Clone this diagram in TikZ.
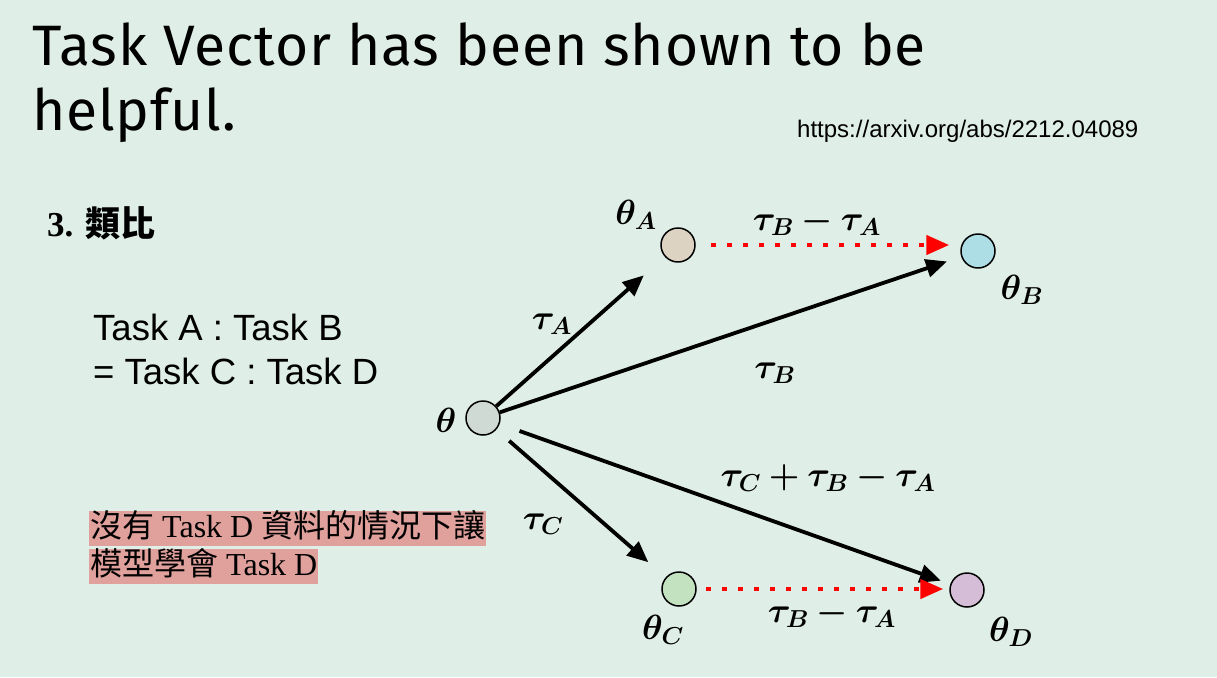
\RequirePackage{fix-cm}
\documentclass[tikz,border=0pt]{standalone}
\usepackage{amsmath,bm}
\usepackage{fontspec}
\setmainfont{Liberation Serif}
\newfontfamily\titlefont{Fira Sans}[LetterSpace=1.5]
\newfontfamily\arialfont{Liberation Sans}
\newfontfamily\cjk{Noto Sans CJK TC}
\usetikzlibrary{arrows.meta}
\definecolor{bgcol}{HTML}{DFEEE6}
\definecolor{markcol}{HTML}{E0A19C}
\definecolor{colO}{HTML}{CFDAD4}
\definecolor{colA}{HTML}{DCD3C3}
\definecolor{colB}{HTML}{ADDDE5}
\definecolor{colC}{HTML}{C3E3C0}
\definecolor{colD}{HTML}{D6BDD7}
\begin{document}
\begin{tikzpicture}[x=1pt,y=-1pt,line join=round]
            \tikzset{param/.style={circle,draw,line width=1.5pt,minimum size=34pt,inner sep=0pt},
                arr/.style={-{Triangle[length=21pt,width=18pt]},line width=3.8pt},
                shiftarr/.style={-{Triangle[length=23pt,width=19pt]},red,line width=4.5pt,dash pattern=on 5pt off 11pt},
                mlabel/.style={font=\fontsize{35}{42}\selectfont,inner sep=0pt},
                notebox/.style={fill=markcol,inner sep=1pt,anchor=west,text height=26pt,text depth=7pt,
                    font=\fontsize{32}{36}\selectfont}}
            \def \cw{1217}
            \def \ch{677}
            \fill[bgcol] (0,0) rectangle (\cw,\ch);
            \useasboundingbox (0,0) rectangle (\cw,\ch);
            % title and source
            \node[anchor=base west,inner sep=0pt,font=\titlefont\fontsize{57}{60}\selectfont] (title1) at (32,65) {Task Vector has been shown to be};
            \node[anchor=base west,inner sep=0pt,font=\titlefont\fontsize{57}{60}\selectfont] (title2) at (32,130) {helpful.};
            \node[anchor=base west,inner sep=0pt,font=\arialfont\fontsize{24}{28}\selectfont] (src) at (797,137) {https://arxiv.org/abs/2212.04089};
            % left texts
            \node[anchor=base west,inner sep=0pt,font=\bfseries\fontsize{35}{40}\selectfont] (head) at (47,236) {3. {\cjk\bfseries 類比}};
            \node[anchor=base west,inner sep=0pt,font=\arialfont\fontsize{36.5}{42}\selectfont] (ratio1) at (93,340) {Task A : Task B};
            \node[anchor=base west,inner sep=0pt,font=\arialfont\fontsize{36.5}{42}\selectfont] (ratio2) at (93,384) {= Task C : Task D};
            \node[notebox] (note1) at (89,528) {{\cjk 沒有} Task D {\cjk 資料的情況下讓}};
            \node[notebox] (note2) at (89,566) {{\cjk 模型學會} Task D};
            % parameters
            \node[param,fill=colO] (th) at (483,418) {};
            \node[param,fill=colA] (thA) at (678,245) {};
            \node[param,fill=colB] (thB) at (978,251) {};
            \node[param,fill=colC] (thC) at (679,589) {};
            \node[param,fill=colD] (thD) at (967,590) {};
            \node[mlabel] (lth) at (446,420) {$\bm{\theta}$};
            \node[mlabel] (lthA) at (636,215) {$\bm{\theta_A}$};
            \node[mlabel] (lthB) at (1022,290) {$\bm{\theta_B}$};
            \node[mlabel] (lthC) at (663,630) {$\bm{\theta_C}$};
            \node[mlabel] (lthD) at (1011,632) {$\bm{\theta_D}$};
            % task vectors
            \draw[arr,shorten >=28pt] (th) -- (thA);
            \draw[arr,shorten >=15pt] (th) -- (thB);
            \draw[arr,shorten <=17pt,shorten >=23pt] (th) -- (thC);
            \draw[arr,shorten <=21pt,shorten >=10pt] (th) -- (thD);
            \draw[shiftarr,shorten <=15pt,shorten >=11pt] (thA) -- (thB.west |- thA);
            \draw[shiftarr,shorten <=9pt,shorten >=6pt] (thC) -- (thD.west |- thC);
            \node[mlabel] (ltA) at (552,324) {$\bm{\tau_A}$};
            \node[mlabel] (ltB) at (775,373) {$\bm{\tau_B}$};
            \node[mlabel] (ltC) at (543,524) {$\bm{\tau_C}$};
            \node[mlabel] (ltD) at (828,478) {$\bm{\tau_C+\tau_B-\tau_A}$};
            \node[mlabel] (ldAB) at (817,222) {$\bm{\tau_B-\tau_A}$};
            \node[mlabel] (ldCD) at (832,614) {$\bm{\tau_B-\tau_A}$};
        \end{tikzpicture}
\end{document}
